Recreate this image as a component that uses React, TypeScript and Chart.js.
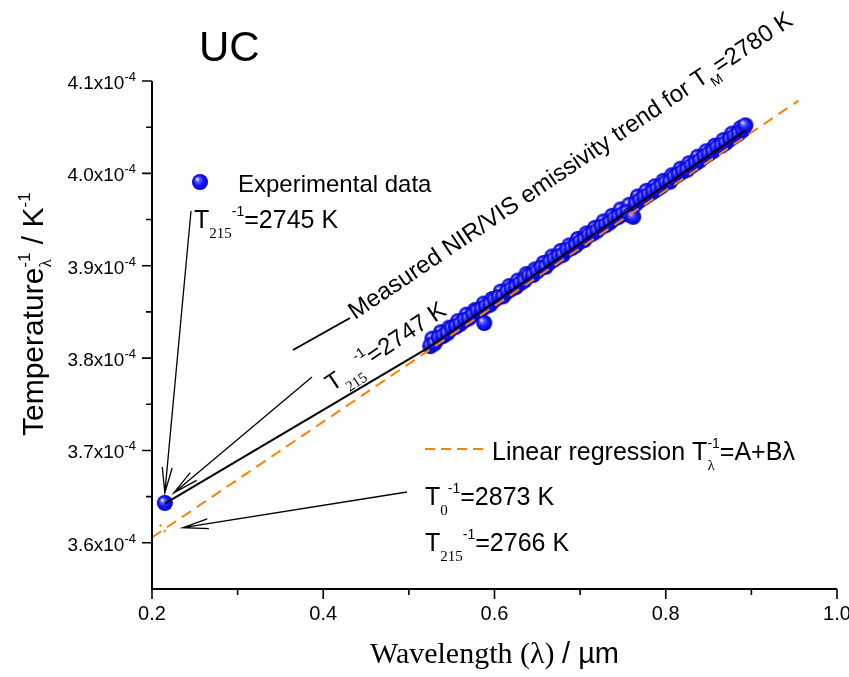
import React, { useEffect, useRef } from "react";
import { Chart, registerables } from "chart.js";
Chart.register(...registerables);

// ---- data (temperature values in units of 1e-4 K^-1) ----
const xTicks = [0.2, 0.4, 0.6, 0.8, 1.0];
const xMinorTicks = [0.3, 0.5, 0.7, 0.9];
const yTicks = [3.6, 3.7, 3.8, 3.9, 4.0, 4.1];
const yMinorTicks = [3.65, 3.75, 3.85, 3.95, 4.05];
const yTickLabels = ["3.6x10", "3.7x10", "3.8x10", "3.9x10", "4.0x10", "4.1x10"];

const expLambda = [
  0.215, 0.525, 0.53, 0.535, 0.54, 0.545, 0.55, 0.555, 0.56, 0.565, 0.57, 0.575, 0.58, 0.585, 0.588,
  0.59, 0.595, 0.6, 0.605, 0.61, 0.615, 0.62, 0.625, 0.63, 0.635, 0.64, 0.645, 0.65, 0.655, 0.66,
  0.665, 0.67, 0.675, 0.68, 0.685, 0.69, 0.695, 0.7, 0.705, 0.71, 0.715, 0.72, 0.725, 0.73, 0.735,
  0.74, 0.745, 0.75, 0.755, 0.758, 0.762, 0.765, 0.77, 0.775, 0.78, 0.785, 0.79, 0.795, 0.8, 0.805,
  0.81, 0.815, 0.82, 0.825, 0.83, 0.835, 0.84, 0.845, 0.85, 0.855, 0.86, 0.865, 0.87, 0.875, 0.88,
  0.885, 0.89, 0.893,
];
const expValues = [
  3.6432, 3.813, 3.816, 3.822, 3.824, 3.827, 3.832, 3.834, 3.837, 3.841, 3.843, 3.847, 3.851, 3.853, 3.838,
  3.856, 3.858, 3.863, 3.866, 3.867, 3.872, 3.875, 3.877, 3.881, 3.884, 3.889, 3.89, 3.894, 3.898, 3.899,
  3.904, 3.907, 3.91, 3.912, 3.917, 3.919, 3.922, 3.926, 3.928, 3.933, 3.935, 3.938, 3.942, 3.944, 3.947,
  3.951, 3.953, 3.956, 3.958, 3.955, 3.953, 3.967, 3.971, 3.974, 3.977, 3.98, 3.983, 3.986, 3.99, 3.991,
  3.996, 3.999, 4.002, 4.004, 4.008, 4.011, 4.014, 4.018, 4.021, 4.024, 4.028, 4.03, 4.033, 4.037, 4.04,
  4.043, 4.047, 4.052,
];
// second scan of the same measurement (interleaved wavelengths)
const expLambdaB = [
  0.5275, 0.5375, 0.5475, 0.5575, 0.5675, 0.5775, 0.5875, 0.5975, 0.6075, 0.6175, 0.6275, 0.6375,
  0.6475, 0.6575, 0.6675, 0.6775, 0.6875, 0.6975, 0.7075, 0.7175, 0.7275, 0.7375, 0.7475, 0.7575,
  0.7675, 0.7775, 0.7875, 0.7975, 0.8075, 0.8175, 0.8275, 0.8375, 0.8475, 0.8575, 0.8675, 0.8775, 0.8875,
];
const expValuesB = [
  3.821, 3.828, 3.833, 3.84, 3.847, 3.852, 3.859, 3.864, 3.872, 3.878, 3.884, 3.891,
  3.896, 3.903, 3.91, 3.916, 3.922, 3.929, 3.935, 3.941, 3.948, 3.954, 3.961, 3.966,
  3.975, 3.981, 3.986, 3.992, 3.998, 4.005, 4.011, 4.018, 4.024, 4.03, 4.036, 4.043, 4.049,
];

const trendLambda = [0.215, 0.517, 0.893];
const trendValues = [3.6425, 3.808, 4.0466];

const regLambda = [0.2, 0.955];
const regValues = [3.6059, 4.0787];

const crossLambda = [0.2093, 0.2187];
const crossValues = [3.6197, 3.6078];

const SANS = '"Liberation Sans", Arial, sans-serif';
const SERIF = '"Liberation Serif", "Times New Roman", serif';
const ORANGE = "#ff8000";

type Seg = { t: string; size: number; serif?: boolean; dy?: number; adv?: boolean };

function measureRich(ctx: CanvasRenderingContext2D, segs: Seg[]) {
  let w = 0;
  for (const s of segs) {
    ctx.font = `${s.size}px ${s.serif ? SERIF : SANS}`;
    if (s.adv !== false) w += ctx.measureText(s.t).width;
  }
  return w;
}
function drawRich(ctx: CanvasRenderingContext2D, x: number, y: number, segs: Seg[]) {
  let cx = x;
  ctx.textAlign = "left";
  ctx.textBaseline = "alphabetic";
  for (const s of segs) {
    ctx.font = `${s.size}px ${s.serif ? SERIF : SANS}`;
    ctx.fillText(s.t, cx, y + (s.dy || 0));
    if (s.adv !== false) cx += ctx.measureText(s.t).width;
  }
}
function drawRotRich(ctx: CanvasRenderingContext2D, x: number, y: number, deg: number, segs: Seg[]) {
  ctx.save();
  ctx.translate(x, y);
  ctx.rotate((deg * Math.PI) / 180);
  drawRich(ctx, 0, 0, segs);
  ctx.restore();
}
function drawArrow(ctx: CanvasRenderingContext2D, x1: number, y1: number, x2: number, y2: number, len = 26, ang = 11) {
  ctx.save();
  ctx.strokeStyle = "#000";
  ctx.lineWidth = 1.3;
  ctx.beginPath();
  ctx.moveTo(x1, y1);
  ctx.lineTo(x2, y2);
  const a = Math.atan2(y1 - y2, x1 - x2);
  const r = (ang * Math.PI) / 180;
  ctx.moveTo(x2 + len * Math.cos(a + r), y2 + len * Math.sin(a + r));
  ctx.lineTo(x2, y2);
  ctx.lineTo(x2 + len * Math.cos(a - r), y2 + len * Math.sin(a - r));
  ctx.stroke();
  ctx.restore();
}

function makeSphere(r: number) {
  const c = document.createElement("canvas");
  const s = Math.ceil(r * 2 + 2);
  c.width = s;
  c.height = s;
  const g = c.getContext("2d")!;
  const cx = s / 2, cy = s / 2;
  const grad = g.createRadialGradient(cx - r * 0.38, cy - r * 0.38, r * 0.05, cx, cy, r);
  grad.addColorStop(0, "#eeeeff");
  grad.addColorStop(0.22, "#6a6aff");
  grad.addColorStop(0.55, "#1a1aff");
  grad.addColorStop(1, "#0000c8");
  g.fillStyle = grad;
  g.beginPath();
  g.arc(cx, cy, r, 0, Math.PI * 2);
  g.fill();
  return c;
}

let legendSphere: HTMLCanvasElement | null = null;

const decorPlugin = {
  id: "decor",
  afterDraw(chart: any) {
    const ctx: CanvasRenderingContext2D = chart.ctx;
    const xs = chart.scales.x;
    const ys = chart.scales.y;
    const { left, right, top, bottom } = chart.chartArea;
    ctx.save();
    ctx.fillStyle = "#000";
    ctx.strokeStyle = "#000";

    // axes
    ctx.lineWidth = 2;
    ctx.beginPath();
    ctx.moveTo(left, top);
    ctx.lineTo(left, bottom);
    ctx.lineTo(right, bottom);
    ctx.stroke();
    ctx.lineWidth = 1.6;
    ctx.beginPath();
    for (const v of xTicks) {
      const px = xs.getPixelForValue(v);
      ctx.moveTo(px, bottom);
      ctx.lineTo(px, bottom + 10);
    }
    for (const v of xMinorTicks) {
      const px = xs.getPixelForValue(v);
      ctx.moveTo(px, bottom);
      ctx.lineTo(px, bottom + 6);
    }
    for (const v of yTicks) {
      const py = ys.getPixelForValue(v);
      ctx.moveTo(left, py);
      ctx.lineTo(left - 10, py);
    }
    for (const v of yMinorTicks) {
      const py = ys.getPixelForValue(v);
      ctx.moveTo(left, py);
      ctx.lineTo(left - 6, py);
    }
    ctx.stroke();

    // tick labels
    ctx.font = `20px ${SANS}`;
    ctx.textAlign = "center";
    ctx.textBaseline = "alphabetic";
    for (const v of xTicks) {
      ctx.fillText(v.toFixed(1), xs.getPixelForValue(v), bottom + 31);
    }
    yTicks.forEach((v, i) => {
      const segs: Seg[] = [
        { t: yTickLabels[i], size: 19 },
        { t: "-4", size: 13, dy: -8 },
      ];
      const w = measureRich(ctx, segs);
      drawRich(ctx, left - 16 - w, ys.getPixelForValue(v) + 8, segs);
    });

    // axis titles
    {
      const segs: Seg[] = [
        { t: "Wavelength (λ) ", size: 30, serif: true },
        { t: "/ µm", size: 29 },
      ];
      const w = measureRich(ctx, segs);
      drawRich(ctx, (left + right) / 2 - w / 2, 663, segs);
    }
    drawRotRich(ctx, 43, 436, -90, [
      { t: "Temperature", size: 30 },
      { t: "λ", size: 17, serif: true, dy: 8, adv: false },
      { t: "-1", size: 17, dy: -13 },
      { t: " / K", size: 30 },
      { t: "-1", size: 17, dy: -13 },
    ]);

    // title
    ctx.font = `42px ${SANS}`;
    ctx.textAlign = "left";
    ctx.fillText("UC", 199, 61);

    // legend: experimental data
    if (legendSphere) {
      ctx.drawImage(legendSphere, 200 - legendSphere.width / 2, 182 - legendSphere.height / 2);
    }
    drawRich(ctx, 238, 192, [{ t: "Experimental data", size: 24 }]);

    // T215 = 2745 K
    drawRich(ctx, 194, 228, [
      { t: "T", size: 25 },
      { t: "215", size: 15, serif: true, dy: 10 },
      { t: "-1", size: 14, dy: -12 },
      { t: "=2745 K", size: 25 },
    ]);

    const p0x = xs.getPixelForValue(expLambda[0]);
    const p0y = ys.getPixelForValue(expValues[0]);
    drawArrow(ctx, 191, 211, p0x, p0y - 10);
    drawArrow(ctx, 312, 377, p0x + 9, p0y - 10);

    // trend legend line and rotated text
    ctx.lineWidth = 2;
    ctx.beginPath();
    ctx.moveTo(293, 350);
    ctx.lineTo(350, 318);
    ctx.stroke();
    drawRotRich(ctx, 355, 320, -34, [
      { t: "Measured NIR/VIS emissivity trend for T", size: 24 },
      { t: "M", size: 14, dy: 8 },
      { t: "=2780 K", size: 24 },
    ]);
    drawRotRich(ctx, 332, 392, -34, [
      { t: "T", size: 24 },
      { t: "215", size: 15, serif: true, dy: 10 },
      { t: "-1", size: 14, dy: -12 },
      { t: "=2747 K", size: 24 },
    ]);

    // regression legend
    ctx.save();
    ctx.strokeStyle = ORANGE;
    ctx.lineWidth = 2;
    ctx.setLineDash([10, 6]);
    ctx.beginPath();
    ctx.moveTo(425, 449);
    ctx.lineTo(486, 449);
    ctx.stroke();
    ctx.restore();
    drawRich(ctx, 492, 460, [
      { t: "Linear regression T", size: 25 },
      { t: "λ", size: 15, serif: true, dy: 10, adv: false },
      { t: "-1", size: 14, dy: -12 },
      { t: "=A+Bλ", size: 25 },
    ]);
    drawRich(ctx, 425, 505, [
      { t: "T", size: 25 },
      { t: "0", size: 15, serif: true, dy: 10 },
      { t: "-1", size: 14, dy: -12 },
      { t: "=2873 K", size: 25 },
    ]);
    drawRich(ctx, 425, 551, [
      { t: "T", size: 25 },
      { t: "215", size: 15, serif: true, dy: 10 },
      { t: "-1", size: 14, dy: -12 },
      { t: "=2766 K", size: 25 },
    ]);
    const rx = xs.getPixelForValue(0.215);
    const ry = ys.getPixelForValue(3.6153);
    drawArrow(ctx, 407, 492, rx + 18, ry - 1);

    ctx.restore();
  },
};

export default function App() {
  const ref = useRef<HTMLCanvasElement>(null);
  useEffect(() => {
    const sphere = makeSphere(8);
    legendSphere = sphere;
    const chart = new Chart(ref.current!, {
      type: "scatter",
      data: {
        datasets: [
          {
            label: "trend",
            data: trendLambda.map((x, i) => ({ x, y: trendValues[i] })),
            showLine: true,
            borderColor: "#000",
            borderWidth: 2,
            pointRadius: 0,
            order: 0,
          },
          {
            label: "regression",
            data: regLambda.map((x, i) => ({ x, y: regValues[i] })),
            showLine: true,
            borderColor: ORANGE,
            borderWidth: 2,
            borderDash: [11, 7],
            pointRadius: 0,
            order: 1,
          },
          {
            label: "cross",
            data: crossLambda.map((x, i) => ({ x, y: crossValues[i] })),
            showLine: true,
            borderColor: ORANGE,
            borderWidth: 2.5,
            borderDash: [2, 5],
            pointRadius: 0,
            order: 1,
          },
          {
            label: "Experimental data",
            data: expLambda.map((x, i) => ({ x, y: expValues[i] })),
            pointStyle: sphere as any,
            pointRadius: 8,
            order: 2,
          },
          {
            label: "Experimental data (scan 2)",
            data: expLambdaB.map((x, i) => ({ x, y: expValuesB[i] })),
            pointStyle: sphere as any,
            pointRadius: 8,
            order: 3,
          },
        ],
      },
      options: {
        animation: false,
        responsive: false,
        devicePixelRatio: 1,
        events: [],
        layout: { padding: { left: 0, top: 81, right: 12, bottom: 0 } },
        plugins: { legend: { display: false }, tooltip: { enabled: false }, title: { display: false } },
        scales: {
          x: {
            type: "linear",
            min: 0.2,
            max: 1.0,
            ticks: { display: false },
            grid: { display: false },
            border: { display: false },
            afterFit: (s: any) => {
              s.height = 88;
            },
          },
          y: {
            type: "linear",
            min: 3.55,
            max: 4.1,
            ticks: { display: false },
            grid: { display: false },
            border: { display: false },
            afterFit: (s: any) => {
              s.width = 152;
            },
          },
        },
      },
      plugins: [decorPlugin],
    });
    return () => chart.destroy();
  }, []);
  return (
    <div style={{ position: "absolute", left: 0, top: 0, width: 849, height: 677, background: "#fff" }}>
      <canvas ref={ref} width={849} height={677} />
    </div>
  );
}
